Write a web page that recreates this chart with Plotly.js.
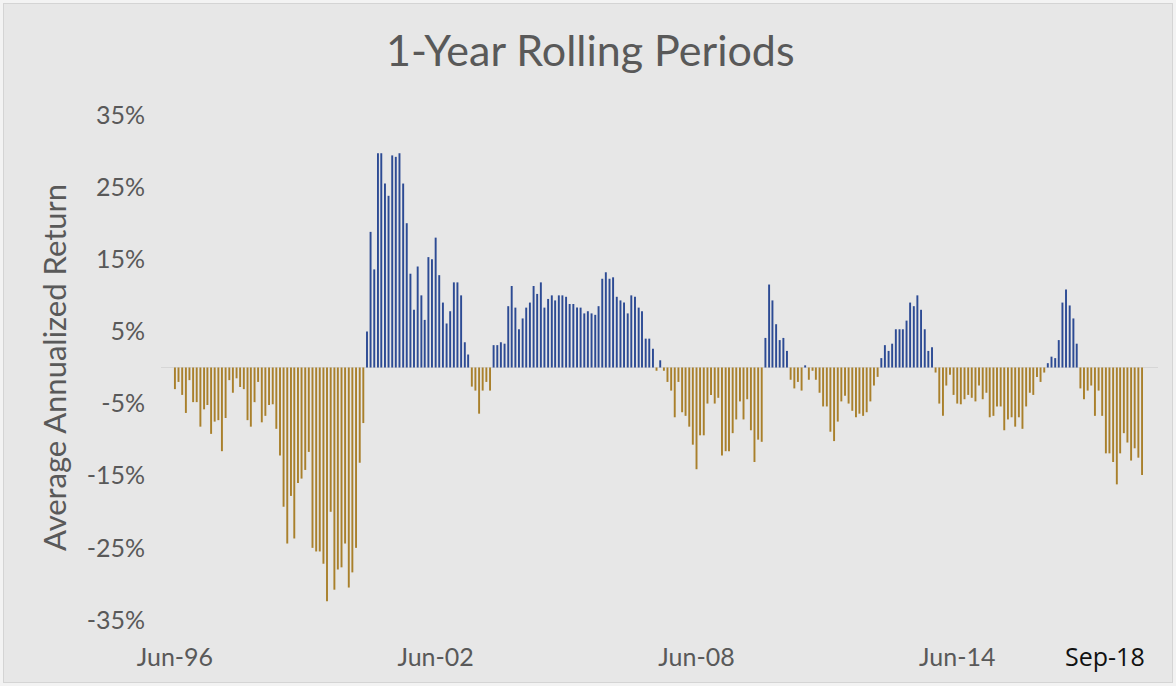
<!DOCTYPE html>
<html>
<head>
<meta charset="utf-8">
<script src="https://cdn.plot.ly/plotly-3.0.1.min.js"></script>
<style>
  html, body { margin: 0; padding: 0; background: #f3f3f3; }
  #chart { position: absolute; left: 3px; top: 3px; width: 1168px; height: 678px; border: 1px solid #d4d4d4; }
</style>
</head>
<body>
<div id="chart"></div>
<script>
// Monthly 1-year rolling returns (%), Jun-1996 .. Sep-2018
const startYear = 1996;
const startMonth = 6;
const returns = [
  -3.0, -2.0, -3.8, -6.3, -1.75, -4.8, -4.8, -8.2, -5.8, -5.2,
  -9.2, -7.5, -7.3, -11.6, -7.0, -1.75, -3.5, -1.5, -2.7, -3.0,
  -7.3, -8.2, -4.8, -2.0, -7.6, -6.7, -5.2, -5.1, -8.5, -12.2,
  -19.3, -24.4, -17.8, -23.7, -16.0, -15.4, -14.2, -11.7, -25.0, -25.5,
  -25.5, -27.2, -32.4, -20.0, -30.8, -28.0, -27.7, -24.4, -30.5, -28.4,
  -25.0, -13.2, -7.7, 5.0, 18.8, 13.6, 29.7, 29.7, 25.5, 23.8,
  29.4, 29.2, 29.7, 25.5, 20.0, 13.0, 8.0, 14.0, 10.0, 6.6,
  15.3, 15.0, 18.0, 12.8, 9.0, 6.1, 7.8, 11.8, 11.8, 10.0,
  3.5, 1.8, -2.65, -3.2, -6.4, -3.2, -2.0, -3.2, 3.1, 3.1,
  3.5, 3.3, 8.5, 11.3, 8.3, 5.3, 6.8, 8.3, 9.0, 11.3,
  10.2, 11.8, 8.3, 9.5, 10.0, 9.3, 10.0, 10.0, 9.8, 8.8,
  8.8, 8.3, 8.3, 7.5, 7.8, 7.5, 7.3, 8.5, 12.3, 13.2,
  12.3, 12.5, 9.8, 9.3, 9.0, 7.5, 10.0, 9.8, 8.3, 7.8,
  4.0, 4.0, 2.6, -0.45, 1.0, -0.45, -2.0, -3.2, -6.9, -2.0,
  -6.2, -6.7, -8.2, -10.7, -14.1, -9.4, -9.4, -5.0, -3.8, -5.0,
  -4.2, -12.2, -11.6, -11.6, -9.1, -7.2, -4.7, -7.2, -4.4, -8.7,
  -13.1, -10.0, -10.3, 4.1, 11.5, 9.3, 6.0, 3.8, 4.1, 2.3,
  -1.7, -2.9, -2.0, -3.2, 0.3, -1.7, -0.45, -1.7, -3.5, -5.4,
  -5.4, -8.9, -10.2, -7.5, -4.7, -3.9, -5.0, -6.0, -6.9, -6.4,
  -6.7, -6.2, -4.7, -2.5, -1.3, 1.3, 3.1, 2.3, 3.3, 5.3,
  5.3, 5.3, 6.5, 9.0, 8.5, 10.0, 8.0, 5.3, 2.3, 2.8,
  -0.7, -5.0, -6.7, -2.5, -1.0, -3.8, -5.0, -5.1, -4.4, -3.8,
  -4.2, -4.7, -2.5, -4.4, -3.5, -6.9, -6.7, -5.4, -5.4, -8.7,
  -7.2, -6.9, -8.2, -6.9, -8.5, -5.4, -3.5, -3.8, -1.3, -2.0,
  -0.7, 0.6, 1.5, 1.3, 3.8, 9.0, 10.8, 8.6, 6.8, 3.3,
  -2.9, -4.4, -3.2, -2.5, -6.7, -3.2, -6.7, -11.9, -11.9, -13.1,
  -16.2, -11.9, -9.1, -10.4, -12.9, -11.2, -12.5, -14.9
];
const xTickVals = ['1996-06-01', '2002-06-01', '2008-06-01', '2014-06-01'];
const xTickText = ['Jun-96', 'Jun-02', 'Jun-08', 'Jun-14'];
const yTickVals = [35, 25, 15, 5, -5, -15, -25, -35];
const yTickText = ['35%', '25%', '15%', '5%', '-5%', '-15%', '-25%', '-35%'];
const endLabel = 'Sep-18';

const pad = n => (n < 10 ? '0' : '') + n;
const months = returns.map((_, i) => {
  const m = startMonth - 1 + i;
  return (startYear + Math.floor(m / 12)) + '-' + pad(m % 12 + 1) + '-01';
});
const posColor = '#2d4b94';
const negColor = '#a9802c';
const colors = returns.map(v => (v >= 0 ? posColor : negColor));

const trace = {
  type: 'bar',
  x: months,
  y: returns,
  marker: { color: colors, line: { width: 0 } },
  hoverinfo: 'x+y'
};

const layout = {
  width: 1168,
  height: 678,
  paper_bgcolor: '#e7e7e7',
  plot_bgcolor: '#e7e7e7',
  margin: { l: 157, r: 14, t: 111, b: 62 },
  bargap: 0.42,
  showlegend: false,
  title: {
    text: '1-Year Rolling Periods',
    font: { family: 'Lato, sans-serif', size: 43, color: '#595959' },
    x: 0.502, xanchor: 'center', xref: 'container',
    y: 0.931, yanchor: 'middle', yref: 'container'
  },
  xaxis: {
    type: 'date',
    range: ['1996-02-05', '2019-01-13'],
    tickvals: xTickVals,
    ticktext: xTickText,
    showgrid: false,
    zeroline: false,
    showline: false,
    ticks: '',
    ticklabelstandoff: 20,
    tickfont: { family: 'Lato, sans-serif', size: 25, color: '#595959' }
  },
  yaxis: {
    range: [-35, 35],
    tickvals: yTickVals,
    ticktext: yTickText,
    showgrid: false,
    zeroline: true,
    zerolinecolor: '#d6d6d6',
    zerolinewidth: 1,
    showline: false,
    ticks: '',
    ticklabelstandoff: 15,
    tickfont: { family: 'Lato, sans-serif', size: 25, color: '#595959' },
    title: {
      text: 'Average Annualized Return',
      font: { family: 'Lato, sans-serif', size: 31, color: '#595959' },
      standoff: 10
    }
  },
  annotations: [{
    text: endLabel,
    x: months[months.length - 1],
    xref: 'x',
    xanchor: 'right',
    xshift: 5,
    y: -0.072,
    yref: 'paper',
    yanchor: 'middle',
    showarrow: false,
    font: { family: 'Open Sans, sans-serif', size: 25, color: '#111111' }
  }]
};

Plotly.newPlot('chart', [trace], layout, { displayModeBar: false, staticPlot: true });
</script>
</body>
</html>
